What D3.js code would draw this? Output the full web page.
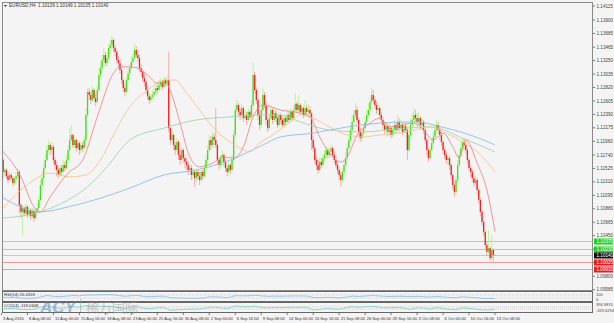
<!DOCTYPE html>
<html>
<head>
<meta charset="utf-8">
<script src="https://cdn.jsdelivr.net/npm/d3@7"></script>
<style>
body { margin: 0; background: #f4f4f4; }
svg { display: block; font-family: "Liberation Sans", Arial, sans-serif; }
</style>
</head>
<body>
<div id="chart"></div>
<script>
// EURUSD H4, 3 Aug 2016 16:00 .. 13 Oct 2016 08:00 (305 bars, open = previous close)
var firstOpen = 1.1198;
var closes = [
1.1166,1.1147,1.1150,1.1140,1.1134,1.1142,1.1137,1.1129,1.1136,1.1140,
1.1147,1.1094,1.1083,1.1089,1.1081,1.1091,1.1078,1.1086,1.1076,1.1084,
1.1073,1.1083,1.1089,1.1102,1.1126,1.1137,1.1153,1.1166,1.1182,1.1190,
1.1182,1.1187,1.1166,1.1158,1.1150,1.1142,1.1153,1.1147,1.1158,1.1153,
1.1166,1.1182,1.1198,1.1206,1.1190,1.1198,1.1185,1.1193,1.1182,1.1190,
1.1185,1.1198,1.1238,1.1275,1.1270,1.1262,1.1278,1.1265,1.1259,1.1278,
1.1302,1.1313,1.1326,1.1334,1.1321,1.1329,1.1345,1.1350,1.1358,1.1345,
1.1339,1.1326,1.1321,1.1310,1.1294,1.1281,1.1275,1.1294,1.1305,1.1313,
1.1323,1.1329,1.1342,1.1334,1.1329,1.1313,1.1307,1.1297,1.1291,1.1278,
1.1268,1.1262,1.1267,1.1270,1.1275,1.1281,1.1278,1.1286,1.1291,1.1283,
1.1294,1.1288,1.1294,1.1217,1.1198,1.1206,1.1190,1.1182,1.1195,1.1174,
1.1166,1.1182,1.1169,1.1163,1.1158,1.1150,1.1153,1.1142,1.1147,1.1137,
1.1147,1.1140,1.1134,1.1147,1.1140,1.1153,1.1166,1.1182,1.1198,1.1190,
1.1203,1.1198,1.1190,1.1166,1.1158,1.1169,1.1174,1.1163,1.1153,1.1147,
1.1158,1.1150,1.1166,1.1206,1.1246,1.1254,1.1243,1.1238,1.1249,1.1233,
1.1238,1.1230,1.1243,1.1235,1.1254,1.1302,1.1278,1.1262,1.1238,1.1222,
1.1246,1.1270,1.1254,1.1230,1.1217,1.1233,1.1246,1.1230,1.1241,1.1233,
1.1222,1.1238,1.1230,1.1222,1.1233,1.1227,1.1238,1.1230,1.1243,1.1233,
1.1246,1.1256,1.1246,1.1254,1.1243,1.1249,1.1238,1.1249,1.1243,1.1246,
1.1240,1.1198,1.1185,1.1166,1.1158,1.1150,1.1163,1.1158,1.1169,1.1174,
1.1182,1.1174,1.1179,1.1185,1.1174,1.1166,1.1158,1.1150,1.1142,1.1134,
1.1147,1.1158,1.1169,1.1185,1.1198,1.1214,1.1227,1.1238,1.1246,1.1230,
1.1211,1.1201,1.1209,1.1217,1.1227,1.1238,1.1246,1.1259,1.1270,1.1262,
1.1254,1.1246,1.1249,1.1238,1.1230,1.1222,1.1214,1.1220,1.1211,1.1217,
1.1206,1.1214,1.1222,1.1214,1.1227,1.1217,1.1222,1.1211,1.1220,1.1214,
1.1182,1.1206,1.1222,1.1230,1.1238,1.1233,1.1227,1.1233,1.1222,1.1227,
1.1214,1.1198,1.1182,1.1169,1.1182,1.1193,1.1203,1.1214,1.1222,1.1214,
1.1206,1.1195,1.1182,1.1174,1.1166,1.1169,1.1158,1.1142,1.1126,1.1115,
1.1134,1.1158,1.1174,1.1185,1.1195,1.1190,1.1182,1.1166,1.1153,1.1147,
1.1137,1.1129,1.1134,1.1118,1.1102,1.1083,1.1067,1.1051,1.1030,1.1019,
1.1025,1.1009,1.1022,1.1014,1.10140
];
var highs = [
1.1203,1.1169,1.1153,1.1153,1.1144,1.1147,1.1145,1.1140,1.1140,1.1147,
1.1153,1.1150,1.1097,1.1094,1.1092,1.1096,1.1094,1.1091,1.1089,1.1089,
1.1088,1.1088,1.1096,1.1108,1.1134,1.1147,1.1161,1.1174,1.1190,1.1198,
1.1193,1.1195,1.1190,1.1171,1.1163,1.1155,1.1158,1.1158,1.1166,1.1163,
1.1174,1.1190,1.1217,1.1222,1.1209,1.1204,1.1201,1.1198,1.1196,1.1195,
1.1195,1.1204,1.1249,1.1281,1.1281,1.1275,1.1284,1.1281,1.1270,1.1286,
1.1313,1.1323,1.1334,1.1345,1.1339,1.1339,1.1352,1.1358,1.1364,1.1361,
1.1350,1.1342,1.1332,1.1326,1.1313,1.1297,1.1288,1.1300,1.1313,1.1320,
1.1332,1.1339,1.1352,1.1348,1.1342,1.1334,1.1320,1.1310,1.1304,1.1294,
1.1284,1.1273,1.1272,1.1278,1.1281,1.1288,1.1286,1.1294,1.1297,1.1294,
1.1300,1.1297,1.1302,1.1339,1.1222,1.1214,1.1209,1.1195,1.1201,1.1198,
1.1182,1.1188,1.1185,1.1174,1.1169,1.1163,1.1160,1.1158,1.1153,1.1150,
1.1153,1.1150,1.1147,1.1153,1.1150,1.1160,1.1174,1.1190,1.1206,1.1204,
1.1211,1.1209,1.1249,1.1193,1.1171,1.1174,1.1182,1.1177,1.1166,1.1158,
1.1163,1.1161,1.1174,1.1214,1.1254,1.1262,1.1257,1.1249,1.1256,1.1252,
1.1246,1.1243,1.1249,1.1246,1.1262,1.1323,1.1307,1.1281,1.1265,1.1243,
1.1254,1.1281,1.1275,1.1259,1.1233,1.1240,1.1254,1.1249,1.1249,1.1246,
1.1238,1.1243,1.1241,1.1235,1.1238,1.1236,1.1246,1.1243,1.1249,1.1246,
1.1254,1.1273,1.1259,1.1270,1.1257,1.1256,1.1252,1.1262,1.1254,1.1256,
1.1252,1.1243,1.1204,1.1190,1.1172,1.1166,1.1169,1.1169,1.1176,1.1182,
1.1188,1.1185,1.1187,1.1190,1.1188,1.1179,1.1171,1.1163,1.1155,1.1147,
1.1153,1.1166,1.1179,1.1193,1.1206,1.1222,1.1238,1.1246,1.1257,1.1252,
1.1233,1.1217,1.1214,1.1224,1.1235,1.1246,1.1256,1.1267,1.1281,1.1278,
1.1268,1.1259,1.1256,1.1252,1.1243,1.1235,1.1227,1.1227,1.1224,1.1224,
1.1220,1.1220,1.1230,1.1227,1.1238,1.1233,1.1230,1.1227,1.1227,1.1225,
1.1217,1.1214,1.1233,1.1241,1.1249,1.1246,1.1240,1.1243,1.1236,1.1233,
1.1230,1.1217,1.1201,1.1185,1.1188,1.1200,1.1211,1.1222,1.1230,1.1227,
1.1219,1.1211,1.1198,1.1187,1.1179,1.1174,1.1172,1.1161,1.1145,1.1129,
1.1140,1.1166,1.1182,1.1193,1.1201,1.1201,1.1195,1.1185,1.1169,1.1158,
1.1150,1.1142,1.1140,1.1137,1.1121,1.1105,1.1086,1.1070,1.1054,1.1035,
1.1054,1.1028,1.1046,1.1025,1.10149
];
var lows = [
1.1158,1.1137,1.1142,1.1136,1.1129,1.1131,1.1134,1.1124,1.1126,1.1132,
1.1137,1.1081,1.1073,1.1046,1.1076,1.1078,1.1073,1.1075,1.1070,1.1073,
1.1067,1.1070,1.1080,1.1086,1.1099,1.1121,1.1134,1.1150,1.1163,1.1177,
1.1174,1.1176,1.1160,1.1150,1.1140,1.1137,1.1139,1.1140,1.1144,1.1148,
1.1150,1.1163,1.1179,1.1195,1.1185,1.1187,1.1179,1.1182,1.1174,1.1177,
1.1179,1.1182,1.1195,1.1235,1.1262,1.1256,1.1259,1.1259,1.1252,1.1256,
1.1275,1.1297,1.1310,1.1323,1.1316,1.1316,1.1326,1.1339,1.1345,1.1339,
1.1332,1.1321,1.1313,1.1304,1.1288,1.1275,1.1268,1.1272,1.1291,1.1300,
1.1310,1.1318,1.1326,1.1329,1.1323,1.1307,1.1300,1.1291,1.1284,1.1272,
1.1262,1.1256,1.1257,1.1262,1.1265,1.1270,1.1272,1.1275,1.1281,1.1278,
1.1281,1.1283,1.1284,1.1211,1.1190,1.1193,1.1182,1.1174,1.1179,1.1166,
1.1158,1.1163,1.1161,1.1153,1.1150,1.1142,1.1144,1.1134,1.1136,1.1123,
1.1131,1.1134,1.1126,1.1131,1.1134,1.1137,1.1150,1.1163,1.1179,1.1182,
1.1185,1.1190,1.1185,1.1158,1.1150,1.1153,1.1163,1.1156,1.1147,1.1140,
1.1142,1.1144,1.1147,1.1161,1.1201,1.1240,1.1236,1.1230,1.1233,1.1227,
1.1230,1.1222,1.1227,1.1230,1.1233,1.1251,1.1272,1.1256,1.1230,1.1214,
1.1217,1.1243,1.1249,1.1222,1.1211,1.1214,1.1230,1.1224,1.1227,1.1227,
1.1217,1.1219,1.1224,1.1217,1.1219,1.1220,1.1224,1.1225,1.1227,1.1228,
1.1230,1.1243,1.1240,1.1243,1.1238,1.1240,1.1233,1.1235,1.1238,1.1236,
1.1233,1.1182,1.1179,1.1160,1.1150,1.1144,1.1147,1.1153,1.1155,1.1163,
1.1169,1.1169,1.1171,1.1174,1.1169,1.1161,1.1153,1.1144,1.1134,1.1123,
1.1129,1.1142,1.1153,1.1166,1.1182,1.1195,1.1211,1.1224,1.1233,1.1224,
1.1204,1.1195,1.1196,1.1204,1.1214,1.1224,1.1233,1.1243,1.1256,1.1256,
1.1248,1.1240,1.1238,1.1233,1.1224,1.1216,1.1208,1.1208,1.1204,1.1206,
1.1201,1.1201,1.1209,1.1208,1.1211,1.1212,1.1214,1.1206,1.1208,1.1209,
1.1166,1.1179,1.1201,1.1217,1.1225,1.1227,1.1220,1.1222,1.1217,1.1214,
1.1208,1.1192,1.1174,1.1163,1.1166,1.1179,1.1188,1.1198,1.1209,1.1208,
1.1198,1.1188,1.1176,1.1168,1.1160,1.1156,1.1150,1.1134,1.1118,1.1107,
1.1110,1.1129,1.1153,1.1169,1.1182,1.1182,1.1176,1.1160,1.1147,1.1139,
1.1131,1.1123,1.1124,1.1112,1.1096,1.1076,1.1060,1.1044,1.1024,1.1012,
1.1016,1.1004,1.1006,1.1003,1.10135
];

// moving averages: [bar, price]
var maRed = [[0,1.1182],[12,1.1139],[20,1.1091],[24,1.1083],[30,1.1107],[41,1.1145],[50,1.1166],[59,1.1235],[69,1.1305],[73,1.1315],[79,1.1315],[84,1.1313],[90,1.1302],[96,1.1289],[101,1.1289],[106,1.1262],[110,1.1225],[116,1.1171],[122,1.1155],[130,1.1161],[137,1.1171],[143,1.1169],[149,1.1187],[155,1.1235],[161,1.1254],[172,1.1246],[184,1.1241],[190,1.1235],[196,1.1203],[202,1.1177],[209,1.1163],[213,1.1171],[219,1.1206],[227,1.1225],[233,1.1233],[239,1.1219],[254,1.1225],[260,1.1214],[266,1.1198],[272,1.1209],[278,1.1187],[282,1.1169],[286,1.1198],[293,1.1161],[299,1.1118],[304,1.1051]];
var maOrange = [[0,1.1086],[12,1.1118],[20,1.1134],[30,1.1145],[42,1.1139],[52,1.1142],[61,1.1166],[69,1.1206],[79,1.1251],[90,1.1278],[101,1.1294],[107,1.1294],[114,1.1273],[122,1.1246],[130,1.1219],[139,1.1198],[147,1.1185],[153,1.1179],[159,1.1193],[167,1.1206],[178,1.1227],[184,1.1238],[192,1.1233],[202,1.1219],[213,1.1206],[223,1.1203],[233,1.1206],[244,1.1209],[254,1.1214],[264,1.1219],[274,1.1209],[284,1.1195],[294,1.1177],[304,1.1147]];
var maGreen = [[0,1.1073],[24,1.1083],[41,1.1102],[53,1.1123],[65,1.1155],[79,1.1198],[100,1.1217],[120,1.1230],[141,1.1235],[161,1.1238],[172,1.1238],[184,1.1227],[202,1.1214],[223,1.1211],[244,1.1216],[264,1.1219],[284,1.1201],[304,1.1179]];
var maBlue = [[0,1.1107],[24,1.1083],[41,1.1091],[61,1.1105],[79,1.1121],[100,1.1142],[120,1.1150],[141,1.1166],[161,1.1190],[172,1.1203],[192,1.1209],[213,1.1219],[233,1.1225],[254,1.1227],[274,1.1217],[294,1.1201],[304,1.1190]];

// RSI(14) and CCI(14), one reading every 4 bars
var rsiStep = 4;
var rsiValues = [42,38,40,30,28,27,45,62,52,47,55,62,58,70,68,72,72,74,62,52,60,62,50,47,52,54,35,33,30,28,28,30,45,47,40,38,60,58,58,66,58,52,55,53,55,57,56,56,38,36,40,38,32,42,55,50,55,62,57,52,50,53,52,48,52,48,42,52,44,38,35,48,40,36,27,24,26.4];
var cciValues = [-60,-80,-50,-150,-160,-140,60,180,60,-40,40,120,60,200,120,160,130,140,20,-60,60,90,-40,-80,10,30,-220,-180,-150,-120,-110,-80,60,60,-20,-40,180,120,90,160,50,0,40,20,40,60,40,60,-200,-140,-60,-90,-140,0,120,60,100,150,80,20,10,40,-20,-150,20,-20,-120,40,-60,-130,-180,20,-60,-100,-180,-200,-119];

var priceTicks = [1.14115,1.13900,1.13685,1.13465,1.13250,1.13035,1.12820,1.12605,1.12390,1.12175,1.11960,1.11740,1.11525,1.11310,1.11095,1.10880,1.10665,1.10450,1.10235,1.10020,1.09800,1.09585];
var levels = [1.10370,1.10230,1.10140,1.10025,1.09910];
var levelColors = ["#8ee68e","#8ee68e","#c8c8c8","#f49a9a","#f49a9a"];
var levelBoxes = ["#1fd21f","#1fd21f","#111111","#f01818","#f01818"];
var tickLabels = ["3 Aug 2016","8 Aug 08:00","11 Aug 00:00","15 Aug 16:00","18 Aug 08:00","23 Aug 00:00","25 Aug 16:00","30 Aug 08:00","2 Sep 00:00","6 Sep 16:00","9 Sep 08:00","14 Sep 00:00","16 Sep 16:00","21 Sep 08:00","26 Sep 00:00","28 Sep 16:00","3 Oct 08:00","6 Oct 00:00","10 Oct 16:00","13 Oct 08:00"];
var tickEvery = 16;
var title = "EURUSD,H4  1.10139 1.10149 1.10135 1.10140";

var W = 614, H = 323;
var left = 2, right = 593;
var mainTop = 2, mainBottom = 291;
var rsiTop = 292, rsiBottom = 301;
var cciTop = 303, cciBottom = 312;
var fs = 4.6;

var svg = d3.select("#chart").append("svg").attr("width", W).attr("height", H);
svg.append("rect").attr("width", W).attr("height", H).attr("fill", "#f4f4f4");

var x = d3.scaleLinear().domain([0, closes.length - 1]).range([1.5, 495]);
var y = d3.scaleLinear().domain([1.09564, 1.14188]).range([mainBottom, mainTop]);

svg.append("clipPath").attr("id", "clipMain").append("rect")
	.attr("x", left).attr("y", mainTop).attr("width", right - left).attr("height", mainBottom - mainTop);

var main = svg.append("g").attr("clip-path", "url(#clipMain)");

// support / resistance lines
main.selectAll(".lvl").data(levels).enter().append("line")
	.attr("x1", left).attr("x2", right)
	.attr("y1", function(d) { return Math.round(y(d)) + 0.5; })
	.attr("y2", function(d) { return Math.round(y(d)) + 0.5; })
	.attr("stroke", function(d, i) { return levelColors[i]; })
	.attr("stroke-width", 1);

var bars = closes.map(function(c, i) {
	var o = i ? closes[i - 1] : firstOpen;
	return { i: i, o: o, c: c, h: Math.max(highs[i], o, c), l: Math.min(lows[i], o, c) };
});

var g = main.selectAll(".bar").data(bars).enter().append("g");
g.append("line")
	.attr("x1", function(d) { return x(d.i); })
	.attr("x2", function(d) { return x(d.i); })
	.attr("y1", function(d) { return y(d.h); })
	.attr("y2", function(d) { return y(d.l); })
	.attr("stroke", function(d) { return d.c >= d.o ? "#b9f28e" : "#f6a4a4"; })
	.attr("stroke-width", 0.9);
g.append("rect")
	.attr("x", function(d) { return x(d.i) - 0.65; })
	.attr("width", 1.3)
	.attr("y", function(d) { return y(Math.max(d.o, d.c)); })
	.attr("height", function(d) { return Math.max(0.6, Math.abs(y(d.o) - y(d.c))); })
	.attr("fill", function(d) { return d.c >= d.o ? "#3ce01a" : "#f2201e"; });

var maLine = d3.line()
	.x(function(d) { return x(d[0]); })
	.y(function(d) { return y(d[1]); })
	.curve(d3.curveMonotoneX);
[[maBlue, "#8cbcf0"], [maGreen, "#9fd6b4"], [maOrange, "#f8c48c"], [maRed, "#f08a8a"]].forEach(function(m) {
	main.append("path").attr("d", maLine(m[0])).attr("fill", "none")
		.attr("stroke", m[1]).attr("stroke-width", 0.9);
});

// frames
svg.append("rect").attr("x", left + 0.5).attr("y", mainTop + 0.5)
	.attr("width", right - left - 1).attr("height", mainBottom - mainTop - 1)
	.attr("fill", "none").attr("stroke", "#8a8a8a");

// right price axis
var ax = svg.append("g");
priceTicks.forEach(function(p, k) {
	var yy = k === 0 ? mainTop + 4 : y(p);
	ax.append("line").attr("x1", right).attr("x2", right + 2).attr("y1", yy).attr("y2", yy).attr("stroke", "#777");
	ax.append("text").attr("x", right + 3.5).attr("y", yy + 1.6).attr("font-size", fs)
		.attr("fill", "#444").text(d3.format(".5f")(p));
});
levels.forEach(function(p, k) {
	var yy = Math.round(y(p)) + 0.5;
	ax.append("rect").attr("x", right + 1).attr("y", yy - 3).attr("width", 19).attr("height", 6)
		.attr("fill", levelBoxes[k]);
	ax.append("text").attr("x", right + 3.5).attr("y", yy + 1.7).attr("font-size", fs)
		.attr("fill", "#fff").text(d3.format(".5f")(p));
});

// title
svg.append("path").attr("d", "M4,5 L7,5 L5.5,7 Z").attr("fill", "#333");
svg.append("text").attr("x", 9).attr("y", 7.2).attr("font-size", fs).attr("fill", "#333")
	.attr("xml:space", "preserve").text(title);

// RSI panel
var xs = function(d, k) { return x(Math.min(k * rsiStep, closes.length - 1)); };
var rsiY = d3.scaleLinear().domain([0, 100]).range([rsiBottom - 0.5, rsiTop + 0.5]);
svg.append("rect").attr("x", left + 0.5).attr("y", rsiTop - 0.5).attr("width", right - left - 1)
	.attr("height", rsiBottom - rsiTop + 1).attr("fill", "#f4f4f4").attr("stroke", "#666");
[70, 30].forEach(function(v) {
	svg.append("line").attr("x1", left).attr("x2", right).attr("y1", rsiY(v)).attr("y2", rsiY(v))
		.attr("stroke", "#aaa").attr("stroke-width", 0.5).attr("stroke-dasharray", "1,1");
});
svg.append("path").attr("d", d3.line().x(xs).y(function(d) { return rsiY(d); })(rsiValues))
	.attr("fill", "none").attr("stroke", "#8cc0f0").attr("stroke-width", 0.9);
svg.append("text").attr("x", 4).attr("y", rsiTop + 4).attr("font-size", 4.2).attr("fill", "#333").text("RSI(14) 26.4318");
svg.append("text").attr("x", right + 3).attr("y", rsiTop + 3.5).attr("font-size", 4).attr("fill", "#444").text("100");
svg.append("text").attr("x", right + 3).attr("y", rsiBottom - 0.5).attr("font-size", 4).attr("fill", "#444").text("0");

// CCI panel
var cciY = d3.scaleLinear().domain([-329.6, 396.9]).range([cciBottom - 0.5, cciTop + 0.5]);
svg.append("rect").attr("x", left + 0.5).attr("y", cciTop - 0.5).attr("width", right - left - 1)
	.attr("height", cciBottom - cciTop + 1).attr("fill", "#f4f4f4").attr("stroke", "#666");
[100, -100].forEach(function(v) {
	svg.append("line").attr("x1", left).attr("x2", right).attr("y1", cciY(v)).attr("y2", cciY(v))
		.attr("stroke", "#aaa").attr("stroke-width", 0.5).attr("stroke-dasharray", "1,1");
});
svg.append("path").attr("d", d3.line().x(xs).y(function(d) { return cciY(d); })(cciValues))
	.attr("fill", "none").attr("stroke", "#7ed6cc").attr("stroke-width", 0.9);
svg.append("text").attr("x", 4).attr("y", cciTop + 4).attr("font-size", 4.2).attr("fill", "#333").text("CCI(14) -119.0668");
svg.append("text").attr("x", right + 3).attr("y", cciTop + 3).attr("font-size", 4).attr("fill", "#444").text("396.9874");
svg.append("text").attr("x", right + 3).attr("y", cciBottom).attr("font-size", 4).attr("fill", "#444").text("-329.6294");

// watermark (drawn as a faint logo across the indicator panels)
var wm = svg.append("g").attr("opacity", 0.5).attr("pointer-events", "none");
wm.append("text").attr("x", 40).attr("y", 313).attr("font-size", 17).attr("font-weight", "bold")
	.attr("font-style", "italic").attr("fill", "#5b7fb0").text("ACY");
wm.append("rect").attr("x", 80).attr("y", 299).attr("width", 1.2).attr("height", 13).attr("fill", "#8aa");
wm.append("text").attr("x", 86).attr("y", 311.5).attr("font-size", 13)
	.attr("font-family", "Noto Sans CJK SC").attr("fill", "#9a9a9a").text("稀万国际");

// time axis
tickLabels.forEach(function(t, k) {
	var xx = x(k * tickEvery);
	svg.append("line").attr("x1", xx).attr("x2", xx).attr("y1", cciBottom + 1).attr("y2", cciBottom + 3).attr("stroke", "#777");
	svg.append("text").attr("x", xx + 1.5).attr("y", 319.5).attr("font-size", 4.1).attr("fill", "#333").text(t);
});
</script>
</body>
</html>
